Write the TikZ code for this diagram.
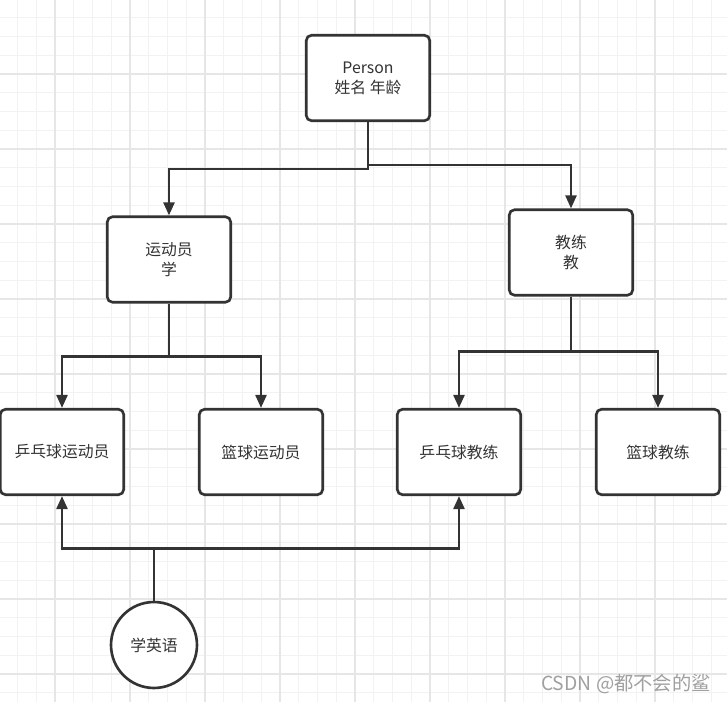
\documentclass[tikz,border=0pt]{standalone}
\usepackage{fontspec}
\setmainfont{Noto Sans CJK SC}
\usetikzlibrary{arrows.meta}
\definecolor{umlLine}{HTML}{333333}
\definecolor{umlText}{HTML}{333333}
\definecolor{gridMinor}{HTML}{F2F2F2}
\definecolor{gridMajor}{HTML}{E6E6E6}
\definecolor{markGray}{HTML}{A0A0A0}
\tikzset{
  umlfig/.style={
    x=0.02cm, y=-0.02cm,
    every node/.append style={font=\fontsize{9}{11.3}\selectfont, text=umlText},
    >={Triangle[length=7.5pt, width=6.3pt]},
  },
  classbox/.style={
    draw=umlLine, line width=1.5pt, fill=white, rounded corners=3pt,
    align=center, inner sep=2pt, minimum width=2.47cm, minimum height=1.71cm,
  },
  usecircle/.style={
    draw=umlLine, line width=1.5pt, fill=white, circle,
    inner sep=1pt, minimum size=1.72cm,
  },
  link/.style={draw=umlLine, line width=1.5pt, ->},
  watermark/.style={font=\fontsize{11}{13}\selectfont, text=markGray, inner sep=0pt},
}
\begin{document}
\begin{tikzpicture}[umlfig]
  \useasboundingbox (0,0) rectangle (727,702);
  \fill[white] (0,0) rectangle (727,702);
  % Rasterhintergrund
  \foreach \gx in {-1.25,17.5,...,727} \draw[gridMinor, line width=0.5pt] (\gx,0) -- (\gx,702);
  \foreach \gy in {-0.998,17.75,...,702} \draw[gridMinor, line width=0.5pt] (0,\gy) -- (727,\gy);
  \foreach \gx in {55,130,...,727} \draw[gridMajor, line width=0.6pt] (\gx,0) -- (\gx,702);
  \foreach \gy in {74,149,...,702} \draw[gridMajor, line width=0.6pt] (0,\gy) -- (727,\gy);

  \node[classbox] (Person) at (368,78) {Person\\姓名 年龄};
  \node[classbox] (Sportler) at (169,259.5) {运动员\\学};
  \node[classbox] (Trainer) at (571,252.5) {教练\\教};
  \node[classbox] (PingSportler) at (62,452) {乒乓球运动员};
  \node[classbox] (BasketSportler) at (261,452) {篮球运动员};
  \node[classbox] (PingTrainer) at (459,452) {乒乓球教练};
  \node[classbox] (BasketTrainer) at (658,452) {篮球教练};
  \node[usecircle] (Englisch) at (154,645) {学英语};

  \draw[link] (Person.south) -- ++(0,47) -| (Sportler.north);
  \draw[link] (Person.south) -- ++(0,43) -| (Trainer.north);
  \draw[link] (Sportler.south) -- ++(0,53) -| (PingSportler.north);
  \draw[link] (Sportler.south) -- ++(0,53) -| (BasketSportler.north);
  \draw[link] (Trainer.south) -- ++(0,55) -| (PingTrainer.north);
  \draw[link] (Trainer.south) -- ++(0,55) -| (BasketTrainer.north);
  \draw[link] (Englisch.north) -- ++(0,-52) -| (PingSportler.south);
  \draw[link] (Englisch.north) -- ++(0,-52) -| (PingTrainer.south);

  \node[watermark] (Mark) at (626,684) {CSDN @都不会的鲨};
\end{tikzpicture}
\end{document}
